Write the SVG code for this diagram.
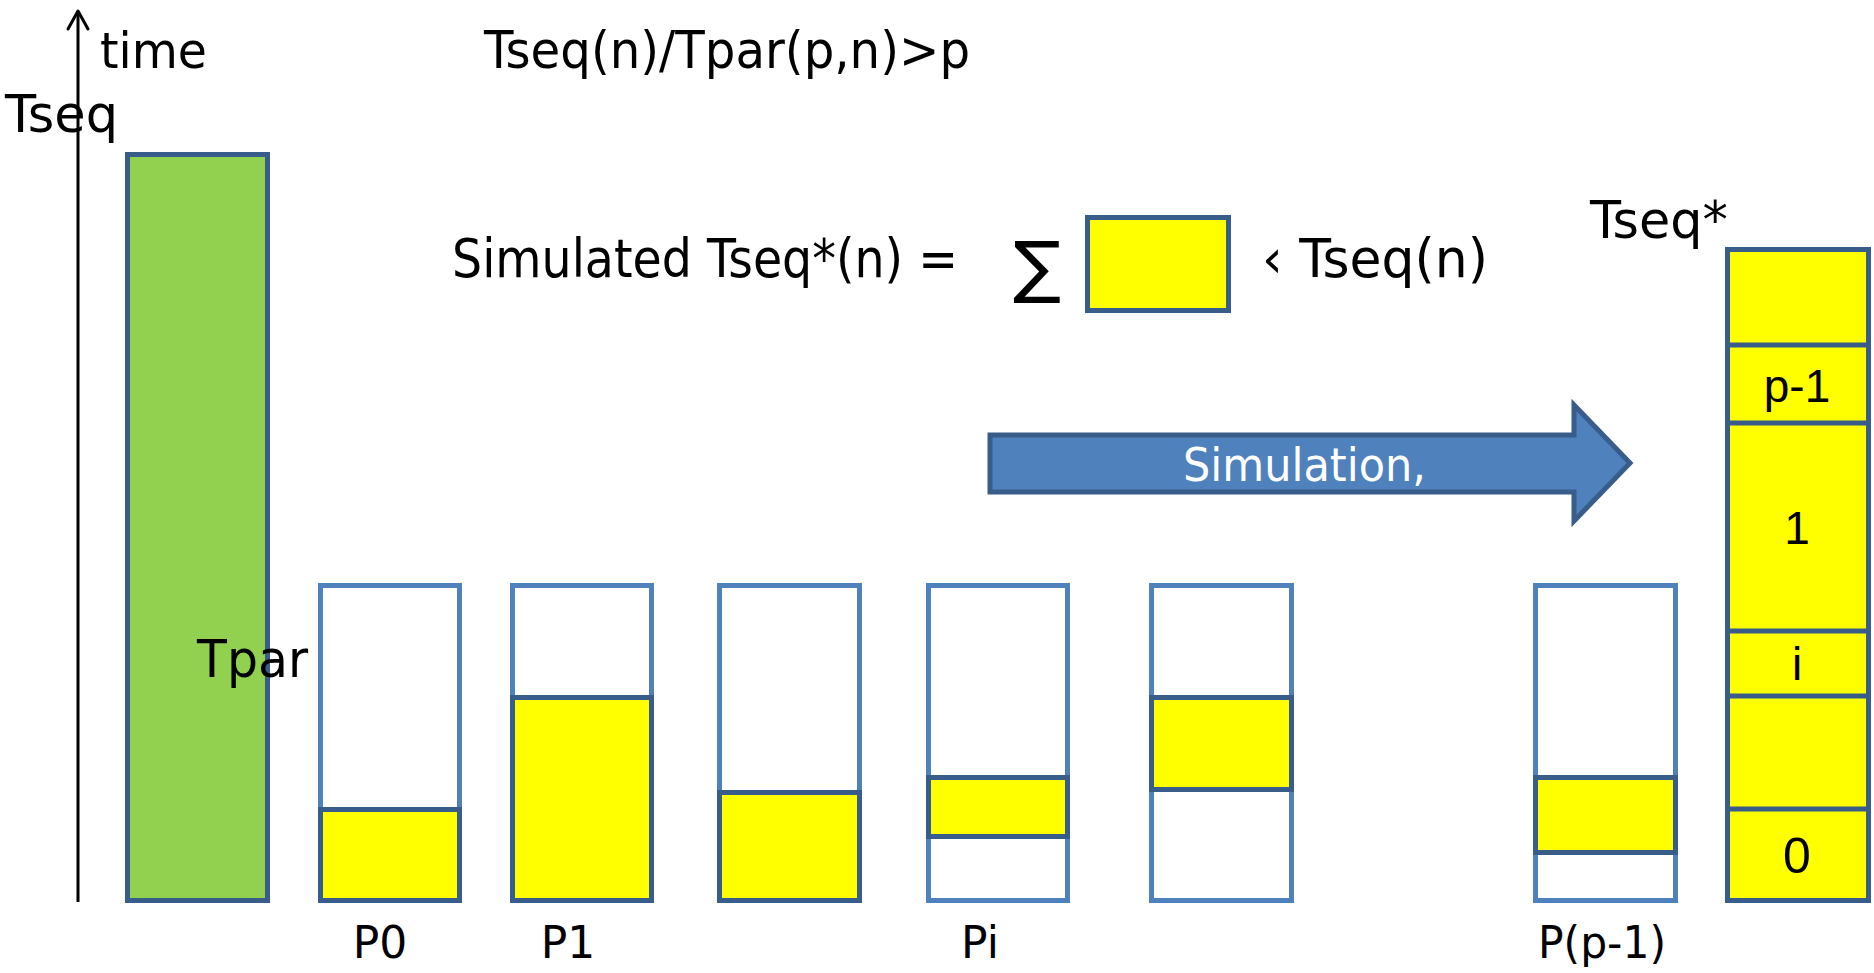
<svg xmlns="http://www.w3.org/2000/svg" width="1874" height="973" viewBox="0 0 1874 973">
<style>
  .hand { font-family: "Comic Sans MS", "DejaVu Sans", sans-serif; fill: #000; }
  .num { font-family: "Liberation Sans", "DejaVu Sans", sans-serif; fill: #000; text-anchor: middle; }
  .proc { fill: #fff; stroke: #4F81BD; stroke-width: 5; }
  .work { fill: #FFFF00; stroke: #385D8A; stroke-width: 5; }
  .seq { fill: #92D050; stroke: #385D8A; stroke-width: 5; }
  .axis { stroke: #000; stroke-width: 3; fill: none; }
</style>
<rect width="1874" height="973" fill="#fff"/>

<g id="connectors">
  <g id="time-axis">
    <line class="axis" x1="78" y1="902" x2="78" y2="11"/>
    <polyline class="axis" points="68,29 78,11 88,29" stroke-linejoin="round" stroke-linecap="round"/>
  </g>
  <g id="simulation-arrow">
    <polygon points="990,435 1574,435 1574,405 1630,463 1574,521 1574,492 990,492" fill="#4F81BD" stroke="#385D8A" stroke-width="5"/>
    <text class="hand" x="1183" y="481" font-size="46" style="fill:#fff" textLength="243" lengthAdjust="spacingAndGlyphs">Simulation,</text>
  </g>
</g>

<g id="labels">
  <text class="hand" x="100" y="68" font-size="50" textLength="107" lengthAdjust="spacingAndGlyphs">time</text>
  <text class="hand" x="5" y="132" font-size="52" textLength="113" lengthAdjust="spacingAndGlyphs">Tseq</text>
  <text class="hand" x="484" y="68" font-size="52" textLength="486" lengthAdjust="spacingAndGlyphs">Tseq(n)/Tpar(p,n)&gt;p</text>
  <text class="hand" x="452" y="277" font-size="53" textLength="506" lengthAdjust="spacingAndGlyphs">Simulated Tseq*(n) =</text>
  <text class="hand" x="1013" y="290" font-size="68" textLength="48" lengthAdjust="spacingAndGlyphs">∑</text>
  <text class="hand" x="1262" y="277" font-size="53" textLength="226" lengthAdjust="spacingAndGlyphs">‹ Tseq(n)</text>
  <text class="hand" x="1590" y="238" font-size="52" textLength="138" lengthAdjust="spacingAndGlyphs">Tseq*</text>
</g>

<g id="sum-box">
  <rect class="work" x="1087.5" y="217.5" width="141" height="93"/>
</g>

<g id="sequential">
  <rect class="seq" x="127.5" y="154.5" width="140" height="746"/>
</g>

<g id="P0">
  <rect class="proc" x="320.5" y="585.5" width="139" height="315"/>
  <rect class="work" x="320.5" y="809.5" width="139" height="91"/>
  <text class="hand" x="380" y="958" font-size="44" text-anchor="middle">P0</text>
</g>

<g id="P1">
  <rect class="proc" x="512.5" y="585.5" width="139" height="315"/>
  <rect class="work" x="512.5" y="697.5" width="139" height="203"/>
  <text class="hand" x="568" y="958" font-size="44" text-anchor="middle">P1</text>
</g>

<g id="P2">
  <rect class="proc" x="719.5" y="585.5" width="140" height="315"/>
  <rect class="work" x="719.5" y="792.5" width="140" height="108"/>
</g>

<g id="Pi">
  <rect class="proc" x="928.5" y="585.5" width="139" height="315"/>
  <rect class="work" x="928.5" y="777.5" width="139" height="59"/>
  <text class="hand" x="980" y="958" font-size="44" text-anchor="middle">Pi</text>
</g>

<g id="P4">
  <rect class="proc" x="1151.5" y="585.5" width="140" height="315"/>
  <rect class="work" x="1151.5" y="697.5" width="140" height="92"/>
</g>

<g id="Pp-1">
  <rect class="proc" x="1535.5" y="585.5" width="140" height="315"/>
  <rect class="work" x="1535.5" y="777.5" width="140" height="75"/>
  <text class="hand" x="1602" y="958" font-size="44" text-anchor="middle" textLength="128" lengthAdjust="spacingAndGlyphs">P(p-1)</text>
</g>

<g id="Tpar-label">
  <text class="hand" x="197" y="677" font-size="52" textLength="111" lengthAdjust="spacingAndGlyphs">Tpar</text>
</g>

<g id="stack">
  <rect class="work" x="1727.5" y="249.5" width="141" height="651"/>
  <line x1="1727.5" y1="345" x2="1868.5" y2="345" stroke="#385D8A" stroke-width="5"/>
  <line x1="1727.5" y1="423" x2="1868.5" y2="423" stroke="#385D8A" stroke-width="5"/>
  <line x1="1727.5" y1="631" x2="1868.5" y2="631" stroke="#385D8A" stroke-width="5"/>
  <line x1="1727.5" y1="696" x2="1868.5" y2="696" stroke="#385D8A" stroke-width="5"/>
  <line x1="1727.5" y1="809" x2="1868.5" y2="809" stroke="#385D8A" stroke-width="5"/>
  <text class="num" x="1797" y="402" font-size="46">p-1</text>
  <text class="num" x="1797" y="544" font-size="46">1</text>
  <text class="num" x="1797" y="680" font-size="46">i</text>
  <text class="num" x="1797" y="873" font-size="50">0</text>
</g>
</svg>
